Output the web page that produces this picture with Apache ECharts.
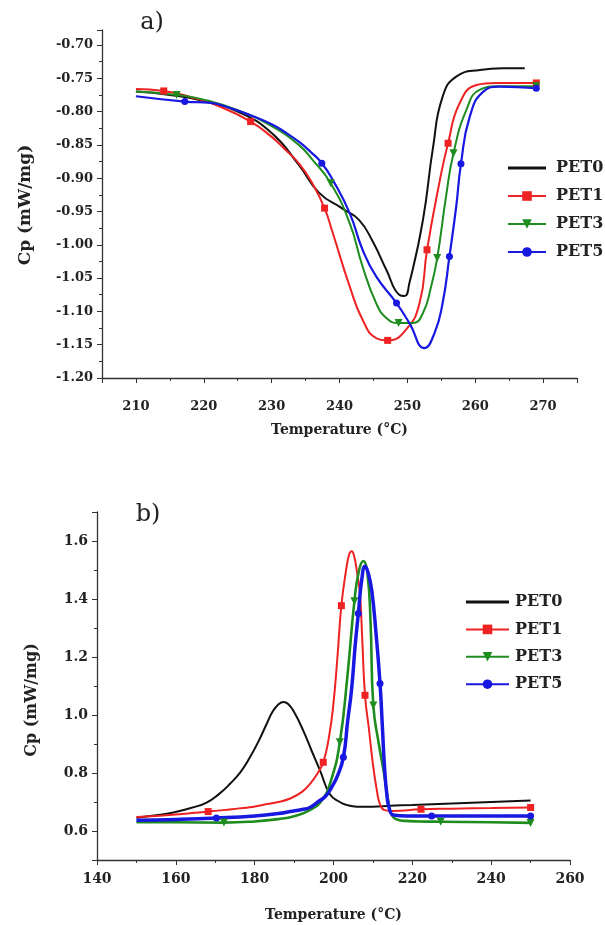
<!DOCTYPE html>
<html>
<head>
<meta charset="utf-8">
<script src="https://cdn.jsdelivr.net/npm/echarts@6/dist/echarts.min.js"></script>
<style>
html,body{margin:0;padding:0;background:#fff;}
#c{width:605px;height:925px;}
</style>
</head>
<body>
<div id="c"></div>
<script>
// ---------- Panel a) ----------
const seriesNames = ['PET0', 'PET1', 'PET3', 'PET5'];

const a_pet0_T = [210, 215, 220, 225, 230, 234, 237, 240.5, 242.9, 244.9, 246.9, 248.8, 249.6, 250.3, 252.3, 253.8, 255.2, 257.2, 260.7, 264, 267.3];
const a_pet0_V = [-0.770, -0.775, -0.784, -0.800, -0.832, -0.880, -0.922, -0.946, -0.963, -0.995, -1.0375, -1.075, -1.077, -1.0575, -0.9625, -0.8525, -0.7775, -0.7475, -0.7375, -0.735, -0.735];
const a_pet0_M = [];

const a_pet1_T = [210, 214.1, 218, 222, 226.9, 230, 232, 234.1, 236, 237.8, 239, 241.5, 243.4, 245.4, 247.1, 249.8, 251.8, 252.9, 254.8, 256, 257.7, 260.2, 263, 269];
const a_pet1_V = [-0.766, -0.769, -0.778, -0.791, -0.815, -0.838, -0.857, -0.879, -0.908, -0.945, -0.982, -1.0625, -1.1125, -1.14, -1.1435, -1.1275, -1.0875, -1.0075, -0.9025, -0.8475, -0.7875, -0.760, -0.757, -0.757];
const a_pet1_M = [214.1, 226.9, 237.8, 247.1, 252.9, 256, 269];

const a_pet3_T = [210, 216, 220, 225, 230, 234, 236, 238.7, 241.5, 243.4, 245.4, 246.9, 248.7, 250.8, 252.3, 253.5, 254.4, 255.7, 256.8, 258.7, 260.7, 263.5, 269];
const a_pet3_V = [-0.770, -0.775, -0.782, -0.798, -0.822, -0.850, -0.872, -0.9075, -0.9675, -1.0325, -1.0875, -1.11, -1.1175, -1.1175, -1.1025, -1.0625, -1.02, -0.9275, -0.8625, -0.7975, -0.767, -0.762, -0.762];
const a_pet3_M = [216, 238.7, 248.7, 254.4, 256.8, 269];

const a_pet5_T = [210, 217.2, 221, 224, 227, 230, 232, 234.1, 235.8, 237.4, 239, 241.5, 243.4, 245.4, 248.4, 250.3, 252.5, 254, 255.2, 256.2, 257.2, 257.9, 259.2, 261.2, 263.6, 269];
const a_pet5_V = [-0.777, -0.785, -0.787, -0.795, -0.806, -0.819, -0.831, -0.846, -0.861, -0.8775, -0.9025, -0.9525, -1.0075, -1.0475, -1.0875, -1.1175, -1.155, -1.1325, -1.0875, -1.0175, -0.9425, -0.8785, -0.8075, -0.770, -0.7625, -0.765];
const a_pet5_M = [217.2, 237.4, 248.4, 256.2, 257.9, 269];

// ---------- Panel b) ----------
const b_pet0_T = [150, 155, 159.4, 164, 167.8, 171, 173.7, 176.5, 178.8, 181, 183, 184.5, 186, 187.3, 188.5, 190, 192.3, 194.5, 196.6, 199.1, 201.6, 203.3, 205.9, 210, 214.3, 220, 230, 240, 250];
const b_pet0_V = [0.646, 0.654, 0.664, 0.680, 0.698, 0.728, 0.762, 0.805, 0.854, 0.910, 0.968, 1.010, 1.036, 1.045, 1.038, 1.010, 0.947, 0.875, 0.808, 0.727, 0.700, 0.690, 0.684, 0.684, 0.687, 0.690, 0.695, 0.700, 0.705];
const b_pet0_M = [];

const b_pet1_T = [150, 155, 160, 165, 168.2, 172, 176, 178.8, 182, 186, 189, 192, 194, 196, 197.4, 198.8, 199.9, 201, 202, 203.2, 204, 204.6, 205.2, 206, 206.7, 207.3, 208, 209, 210, 211, 211.8, 213, 215, 222.2, 230, 240, 250];
const b_pet1_V = [0.648, 0.652, 0.657, 0.663, 0.667, 0.672, 0.678, 0.682, 0.690, 0.700, 0.712, 0.735, 0.762, 0.800, 0.837, 0.920, 1.028, 1.200, 1.377, 1.500, 1.555, 1.565, 1.550, 1.490, 1.420, 1.260, 1.068, 0.950, 0.831, 0.740, 0.692, 0.672, 0.669, 0.675, 0.677, 0.679, 0.681];
const b_pet1_M = [168.2, 197.4, 202, 208, 222.2, 250];

const b_pet3_T = [150, 160, 172.2, 180, 186, 190, 194, 197, 199.5, 201.6, 203.5, 205.3, 206.5, 207.6, 208.6, 209.4, 210.1, 211.5, 212.8, 213.8, 214.6, 216, 218, 222, 227.2, 240, 250];
const b_pet3_V = [0.630, 0.630, 0.629, 0.633, 0.641, 0.651, 0.672, 0.705, 0.780, 0.906, 1.130, 1.392, 1.500, 1.531, 1.490, 1.320, 1.033, 0.900, 0.800, 0.710, 0.660, 0.640, 0.635, 0.633, 0.632, 0.630, 0.628];
const b_pet3_M = [172.2, 201.6, 205.3, 210.1, 227.2, 250];

const b_pet5_T = [150, 160, 170.3, 180, 186, 189, 192, 194, 196, 198, 199.5, 201, 202.5, 203.6, 204.6, 205.5, 206.3, 207.2, 208, 208.8, 209.7, 210.8, 211.8, 212.4, 212.9, 213.5, 214.2, 215.2, 218.6, 224.9, 240, 250];
const b_pet5_V = [0.637, 0.640, 0.645, 0.652, 0.660, 0.667, 0.674, 0.681, 0.700, 0.720, 0.750, 0.790, 0.854, 0.980, 1.090, 1.240, 1.350, 1.470, 1.513, 1.490, 1.430, 1.280, 1.109, 0.960, 0.830, 0.730, 0.675, 0.655, 0.652, 0.652, 0.652, 0.652];
const b_pet5_M = [170.3, 202.5, 206.3, 211.8, 224.9, 250];

// ---------- styling ----------
const colors = ['#111111', '#ee2222', '#1e8c1e', '#1818e0'];
const symbols = ['none', 'rect', 'triangle', 'circle'];
const symbolRot = [0, 0, 180, 0];
const FONT = 'DejaVu Serif';

function buildData(T, V, M) {
  return T.map((t, i) => {
    const item = { value: [t, V[i]] };
    if (M.indexOf(t) < 0) item.symbol = 'none';
    return item;
  });
}

function makeSeries(idx, T, V, M, xi, lw) {
  return {
    name: seriesNames[idx],
    type: 'line',
    xAxisIndex: xi,
    yAxisIndex: xi,
    smooth: 0.5,
    symbol: symbols[idx],
    symbolRotate: symbolRot[idx],
    symbolSize: idx === 2 ? 8 : 7,
    showSymbol: true,
    showAllSymbol: true,
    color: colors[idx],
    lineStyle: { width: lw, color: colors[idx] },
    itemStyle: { color: colors[idx] },
    emphasis: { disabled: true },
    animation: false,
    data: buildData(T, V, M)
  };
}

const axisLineStyle = { show: true, onZero: false, lineStyle: { color: '#333', width: 1.3 } };
const labelStyle = { fontFamily: FONT, fontWeight: 'bold', color: '#222' };
const legendData = [
  { name: 'PET0', icon: 'path://M0,0H40V3H0Z' },
  { name: 'PET1' }, { name: 'PET3' }, { name: 'PET5' }
];

const chart = echarts.init(document.getElementById('c'), null, { renderer: 'canvas' });
chart.setOption({
  backgroundColor: '#ffffff',
  animation: false,
  grid: [
    { left: 102, top: 30, width: 475, height: 348, containLabel: false },
    { left: 97, top: 512, width: 473, height: 348, containLabel: false }
  ],
  xAxis: [
    {
      type: 'value', gridIndex: 0, min: 205, max: 275, splitNumber: 7,
      axisLine: axisLineStyle,
      axisTick: { show: true, length: 5, lineStyle: { color: '#333' } },
      minorTick: { show: true, splitNumber: 2, length: 3, lineStyle: { color: '#333' } },
      splitLine: { show: false },
      axisLabel: Object.assign({ fontSize: 13, margin: 22, showMinLabel: false, showMaxLabel: false }, labelStyle),
      name: 'Temperature (°C)', nameLocation: 'middle', nameGap: 45,
      nameTextStyle: { fontFamily: FONT, fontWeight: 'bold', fontSize: 14, color: '#222' }
    },
    {
      type: 'value', gridIndex: 1, min: 140, max: 260, interval: 20,
      axisLine: axisLineStyle,
      axisTick: { show: true, length: 5, lineStyle: { color: '#333' } },
      minorTick: { show: true, splitNumber: 2, length: 3, lineStyle: { color: '#333' } },
      splitLine: { show: false },
      axisLabel: Object.assign({ fontSize: 14, margin: 12 }, labelStyle),
      name: 'Temperature (°C)', nameLocation: 'middle', nameGap: 48,
      nameTextStyle: { fontFamily: FONT, fontWeight: 'bold', fontSize: 14, color: '#222' }
    }
  ],
  yAxis: [
    {
      type: 'value', gridIndex: 0, min: -1.20, max: -0.6775, interval: 0.05,
      axisLine: axisLineStyle,
      axisTick: { show: true, length: 5, lineStyle: { color: '#333' } },
      minorTick: { show: true, splitNumber: 2, length: 3, lineStyle: { color: '#333' } },
      splitLine: { show: false },
      axisLabel: Object.assign({ fontSize: 13, margin: 9, showMaxLabel: false, formatter: v => v.toFixed(2) }, labelStyle)
    },
    {
      type: 'value', gridIndex: 1, min: 0.5, max: 1.7, splitNumber: 6,
      axisLine: axisLineStyle,
      axisTick: { show: true, length: 5, lineStyle: { color: '#333' } },
      minorTick: { show: true, splitNumber: 2, length: 3, lineStyle: { color: '#333' } },
      splitLine: { show: false },
      axisLabel: Object.assign({ fontSize: 14, margin: 9, showMinLabel: false, showMaxLabel: false, formatter: v => v.toFixed(1) }, labelStyle)
    }
  ],
  legend: [
    {
      orient: 'vertical', left: 507, top: 159, padding: 0,
      itemWidth: 38, itemHeight: 12, itemGap: 10,
      selectedMode: false,
      data: legendData,
      textStyle: { fontFamily: FONT, fontWeight: 'bold', fontSize: 16, color: '#222', lineHeight: 18, padding: [0, 0, 0, 5] }
    },
    {
      orient: 'vertical', left: 465, top: 593, padding: 0,
      itemWidth: 43, itemHeight: 12, itemGap: 9.4,
      selectedMode: false,
      data: legendData,
      textStyle: { fontFamily: FONT, fontWeight: 'bold', fontSize: 16, color: '#222', lineHeight: 18, padding: [0, 0, 0, 1] }
    }
  ],
  graphic: [
    { type: 'text', x: 152, y: 23, style: { text: 'a)', font: '24px "DejaVu Serif"', fill: '#222', align: 'center', verticalAlign: 'middle' } },
    { type: 'text', x: 148, y: 515, style: { text: 'b)', font: '24px "DejaVu Serif"', fill: '#222', align: 'center', verticalAlign: 'middle' } },
    { type: 'text', x: 25.5, y: 205, rotation: Math.PI / 2, style: { text: 'Cp (mW/mg)', font: 'bold 17px "DejaVu Serif"', fill: '#222', align: 'center', verticalAlign: 'middle' } },
    { type: 'text', x: 31.5, y: 700, rotation: Math.PI / 2, style: { text: 'Cp (mW/mg)', font: 'bold 16px "DejaVu Serif"', fill: '#222', align: 'center', verticalAlign: 'middle' } }
  ],
  series: [
    makeSeries(0, a_pet0_T, a_pet0_V, a_pet0_M, 0, 2),
    makeSeries(1, a_pet1_T, a_pet1_V, a_pet1_M, 0, 2),
    makeSeries(2, a_pet3_T, a_pet3_V, a_pet3_M, 0, 2),
    makeSeries(3, a_pet5_T, a_pet5_V, a_pet5_M, 0, 2.2),
    makeSeries(0, b_pet0_T, b_pet0_V, b_pet0_M, 1, 2),
    makeSeries(1, b_pet1_T, b_pet1_V, b_pet1_M, 1, 2),
    makeSeries(2, b_pet3_T, b_pet3_V, b_pet3_M, 1, 2.6),
    makeSeries(3, b_pet5_T, b_pet5_V, b_pet5_M, 1, 3.5)
  ]
});
</script>
</body>
</html>
